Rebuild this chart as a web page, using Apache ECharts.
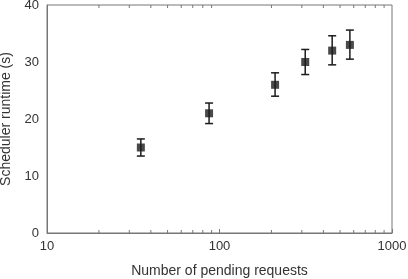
<!DOCTYPE html>
<html>
<head>
<meta charset="utf-8">
<script src="https://cdn.jsdelivr.net/npm/echarts@6/dist/echarts.min.js"></script>
<style>
  html, body { margin: 0; padding: 0; background: #fff; }
  #chart { width: 408px; height: 279px; }
</style>
</head>
<body>
<div id="chart"></div>
<script>
// pending requests (x) and scheduler runtime (y), with error bar ends
const requests = [35, 87, 210, 314, 450, 570];
const runtime = [15, 21, 26, 30, 32, 33];
const errLow = [13.5, 19.2, 24.0, 27.8, 29.5, 30.5];
const errHigh = [16.5, 22.8, 28.1, 32.2, 34.6, 35.6];
const minorTicks = [20, 30, 40, 50, 60, 70, 80, 90, 200, 300, 400, 500, 600, 700, 800, 900];
const xTickLabels = ['10', '100', '1000'];
const yTickLabels = ['0', '10', '20', '30', '40'];

const ink = '#1c1c1c';
const frame = '#777';
const font = 'Liberation Sans, Arial, Helvetica, sans-serif';

const chart = echarts.init(document.getElementById('chart'));

const option = {
  animation: false,
  grid: {
    left: 47, right: 16, top: 5, bottom: 46,
    outerBoundsMode: 'none',
    containLabel: false,
    show: true, borderColor: frame, borderWidth: 1
  },
  xAxis: {
    type: 'log',
    logBase: 10,
    min: 10,
    max: 1000,
    name: 'Number of pending requests',
    nameLocation: 'middle',
    nameGap: 31,
    nameTextStyle: { color: '#333', fontSize: 14, fontFamily: font },
    axisLine: { show: true, lineStyle: { color: frame } },
    axisTick: { show: true, inside: true, length: 4, lineStyle: { color: frame } },
    axisLabel: {
      color: '#333', fontSize: 13, fontFamily: font, margin: 7,
      formatter: v => xTickLabels.find(t => Number(t) === Math.round(v)) || ''
    },
    splitLine: { show: false }
  },
  yAxis: {
    type: 'value',
    min: 0,
    max: 40,
    interval: 10,
    name: 'Scheduler runtime (s)',
    nameLocation: 'middle',
    nameGap: 31,
    nameTextStyle: { color: '#333', fontSize: 14, fontFamily: font },
    axisLine: { show: true, lineStyle: { color: frame } },
    axisTick: { show: false },
    axisLabel: {
      color: '#333', fontSize: 13, fontFamily: font, margin: 8,
      formatter: v => yTickLabels[v / 10]
    },
    splitLine: { show: false }
  },
  series: [
    {
      // minor ticks on log axis, bottom and top edges
      type: 'custom',
      silent: true,
      clip: false,
      data: minorTicks.map(v => [v, 20]),
      renderItem(params, api) {
        const p = api.coord([api.value(0), api.value(1)]);
        const top = params.coordSys.y;
        const bottom = top + params.coordSys.height;
        const style = { stroke: frame, lineWidth: 1 };
        return {
          type: 'group',
          children: [
            { type: 'line', shape: { x1: p[0], y1: bottom, x2: p[0], y2: bottom - 3 }, style },
            { type: 'line', shape: { x1: p[0], y1: top, x2: p[0], y2: top + 3 }, style }
          ]
        };
      }
    },
    {
      // error bars
      type: 'custom',
      silent: true,
      data: requests.map((x, i) => [x, errLow[i], errHigh[i]]),
      renderItem(params, api) {
        const lo = api.coord([api.value(0), api.value(1)]);
        const hi = api.coord([api.value(0), api.value(2)]);
        const w = 4;
        const style = { stroke: ink, lineWidth: 1.5 };
        return {
          type: 'group',
          children: [
            { type: 'line', shape: { x1: lo[0], y1: lo[1], x2: hi[0], y2: hi[1] }, style },
            { type: 'line', shape: { x1: lo[0] - w, y1: lo[1], x2: lo[0] + w, y2: lo[1] }, style },
            { type: 'line', shape: { x1: hi[0] - w, y1: hi[1], x2: hi[0] + w, y2: hi[1] }, style }
          ]
        };
      }
    },
    {
      type: 'scatter',
      symbol: 'rect',
      symbolSize: 8,
      itemStyle: { color: ink },
      data: requests.map((x, i) => [x, runtime[i]]),
      z: 3
    }
  ]
};

chart.setOption(option);
</script>
</body>
</html>
